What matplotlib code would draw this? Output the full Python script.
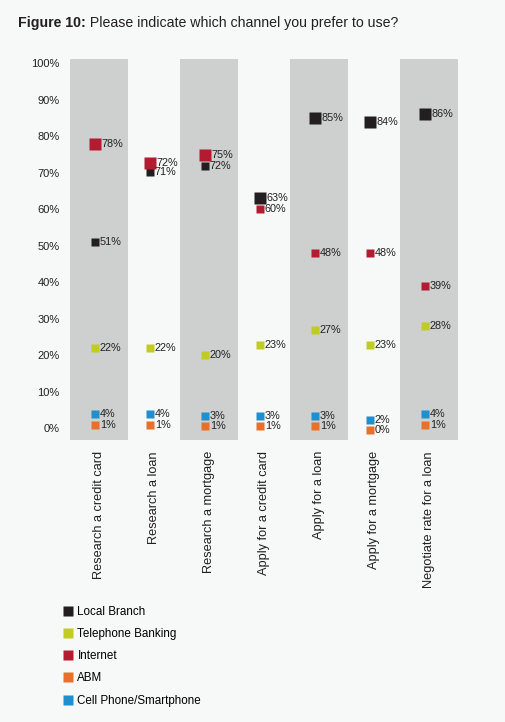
import matplotlib
matplotlib.use("Agg")
import matplotlib.pyplot as plt
from matplotlib.lines import Line2D
import numpy as np

plt.rcParams['font.family'] = ['Liberation Sans', 'DejaVu Sans']

categories = ["Research a credit card", "Research a loan", "Research a mortgage",
              "Apply for a credit card", "Apply for a loan", "Apply for a mortgage",
              "Negotiate rate for a loan"]
series_names = ["Local Branch", "Telephone Banking", "Internet", "ABM", "Cell Phone/Smartphone"]
local_branch = [51, 71, 72, 63, 85, 84, 86]
telephone = [22, 22, 20, 23, 27, 23, 28]
internet = [78, 72, 75, 60, 48, 48, 39]
abm = [1, 1, 1, 1, 1, 0, 1]
cell = [4, 4, 3, 3, 3, 2, 4]
colors = ["#231f20", "#c1cc22", "#b31b30", "#e8702a", "#1f8fcd"]
yticks = [0, 10, 20, 30, 40, 50, 60, 70, 80, 90, 100]

bg = "#f6f9f7"
fig = plt.figure(figsize=(5.06, 7.22), dpi=100, facecolor=bg)
W, H = 506, 722
ax = fig.add_axes([66 / W, 1 - 440 / H, 396 / W, 381 / H])
ax.set_facecolor(bg)

x = np.arange(len(categories))
ax.set_xlim(-0.6, 6.6)
ax.set_ylim(-3.15, 101.2)

# alternating grey bands
for i in x[::2]:
    ax.axvspan(i - 0.52, i + 0.52, color="#cdd0cf", zorder=0, lw=0)

all_series = [local_branch, telephone, internet, abm, cell]
data = np.array(all_series, dtype=float)
top = data.max(axis=0)

# nudge points that sit too close in one column so labels don't collide
min_gap = 2.6
ypos = data.copy()
for j in x:
    order = np.argsort(data[:, j])
    for a, b in zip(order[:-1], order[1:]):
        gap = ypos[b, j] - ypos[a, j]
        if gap < min_gap:
            d = (min_gap - gap) / 2
            ypos[b, j] += d
            ypos[a, j] -= d

for k, (vals, c) in enumerate(zip(all_series, colors)):
    for xi, v in zip(x, vals):
        big = v == top[xi]
        ms = 8.6 if big else 5.4
        y = ypos[k, xi]
        ax.plot(xi - 0.08, y, marker="s", ms=ms, color=c, mec="none", ls="none", zorder=3)
        ax.annotate(f"{v}%", xy=(xi - 0.08, y), xytext=(ms / 2 + 1.0, 0),
                    textcoords="offset points", va="center", ha="left",
                    fontsize=7.8, color="#231f20", zorder=4)

ax.set_yticks(yticks)
ax.set_yticklabels([f"{t}%" for t in yticks], fontsize=8, color="#231f20")
ax.set_xticks(x)
ax.set_xticklabels(categories, rotation=90, fontsize=9.2, color="#231f20", va="top", ha="center")
ax.tick_params(length=0, axis="y", pad=4.5)
ax.tick_params(length=0, axis="x", pad=8)
for s in ax.spines.values():
    s.set_visible(False)

t1 = fig.text(18 / W, 1 - 27 / H, "Figure 10:", fontsize=10.2, fontweight="bold",
              color="#231f20", va="baseline")
plt.annotate(" Please indicate which channel you prefer to use?", xy=(1, 0), xycoords=t1,
             va="bottom", ha="left", fontsize=10.2, color="#231f20", annotation_clip=False)

handles = [Line2D([], [], marker="s", ms=6.5, color=c, mec="none", ls="none") for c in colors]
fig.legend(handles, series_names, loc="upper left", bbox_to_anchor=(64 / W, 1 - 606 / H),
           frameon=False, fontsize=8.4, handlelength=0.65, handletextpad=0.5,
           labelspacing=0.87, borderpad=0, borderaxespad=0)

fig.savefig("out.png", dpi=100, facecolor=bg)
